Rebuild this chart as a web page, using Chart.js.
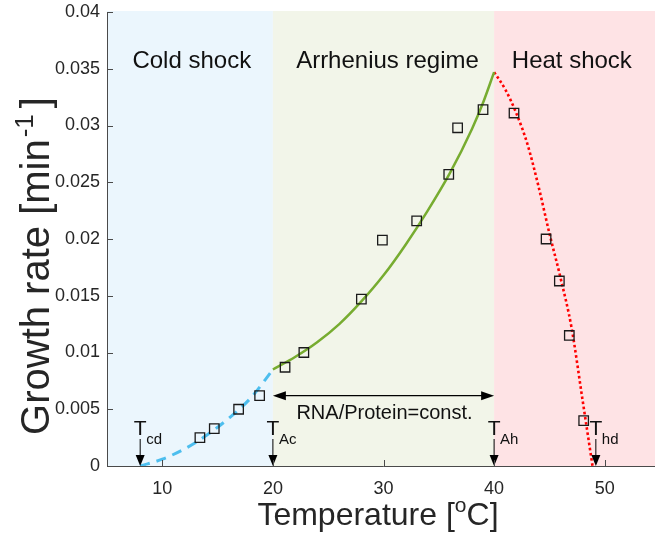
<!DOCTYPE html>
<html>
<head>
<meta charset="utf-8">
<script src="https://cdn.jsdelivr.net/npm/chart.js@4.4.0/dist/chart.umd.min.js"></script>
<style>
  html, body { margin: 0; padding: 0; background: #fff; overflow: hidden; }
  #wrap { position: relative; width: 668px; height: 537px; }
</style>
</head>
<body>
<div id="wrap"><canvas id="growth-chart"></canvas></div>
<script>
// Measured growth rates (open squares)
const obsTemp = [13.4, 14.7, 16.9, 18.8, 21.1, 22.8, 28.0, 29.9, 33.0, 35.9, 36.7, 39.0, 41.8, 44.7, 45.9, 46.8, 48.1]
const obsRate = [0.0025, 0.0033, 0.0050, 0.0062, 0.0087, 0.0100, 0.0147, 0.0199, 0.0216, 0.0257, 0.0298, 0.0314, 0.0311, 0.0200, 0.0163, 0.0115, 0.0040]

// Cold shock fit (blue dashed)
const coldTemp = [8, 10, 12, 14, 16, 18, 20]
const coldRate = [0, 0.0006, 0.0015, 0.0027, 0.0042, 0.0060, 0.0085]

// Arrhenius fit (green)
const arrTemp = [20, 22, 24, 26, 28, 30, 32, 34, 36, 38, 39, 40]
const arrRate = [0.0085, 0.0096, 0.0109, 0.0125, 0.0145, 0.0168, 0.0195, 0.0225, 0.0258, 0.0297, 0.0320, 0.0347]

// Heat shock fit (red dotted)
const heatTemp = [40, 41, 42, 43, 44, 45, 46, 47, 48, 48.9]
const heatRate = [0.0347, 0.0332, 0.0311, 0.0284, 0.0247, 0.0205, 0.0166, 0.0122, 0.0058, 0]

// Regimes
const regionNames = ["Cold shock", "Arrhenius regime", "Heat shock"]
const regionEdges = [5, 20, 40, 55]

// Characteristic temperatures
const markerNames = ["cd", "Ac", "Ah", "hd"]
const markerTemps = [8, 20, 40, 49.2]

// Axis ticks
const xTicks = [10, 20, 30, 40, 50]
const xTickLabels = ["10", "20", "30", "40", "50"]
const yTicks = [0, 0.005, 0.01, 0.015, 0.02, 0.025, 0.03, 0.035, 0.04]
const yTickLabels = ["0", "0.005", "0.01", "0.015", "0.02", "0.025", "0.03", "0.035", "0.04"]

const FONT = '"Liberation Sans", Arial, Helvetica, sans-serif'
const TEXT = "#262626"
const regionColors = ["#ebf6fd", "#f2f5e9", "#fee3e5"]

function toPoints(xs, ys) {
  return xs.map((v, i) => ({ x: v, y: ys[i] }))
}

// draw text pieces (some raised as superscripts) along one baseline
function drawSupText(ctx, parts, align) {
  let total = 0
  parts.forEach((p) => {
    ctx.font = `${p.size}px ${FONT}`
    total += ctx.measureText(p.text).width + (p.gap || 0)
  })
  let cx = align === "center" ? -total / 2 : 0
  parts.forEach((p) => {
    ctx.font = `${p.size}px ${FONT}`
    cx += p.gap || 0
    ctx.fillText(p.text, cx, -(p.rise || 0))
    cx += ctx.measureText(p.text).width
  })
}

function arrowHead(ctx, x, y, dx, dy, len, half) {
  // tip at (x, y), pointing along (dx, dy)
  const bx = x - dx * len
  const by = y - dy * len
  ctx.beginPath()
  ctx.moveTo(x, y)
  ctx.lineTo(bx - dy * half, by + dx * half)
  ctx.lineTo(bx + dy * half, by - dx * half)
  ctx.closePath()
  ctx.fill()
}

const decorations = {
  id: "decorations",
  beforeDatasetsDraw(chart) {
    const { ctx, chartArea, scales } = chart
    const x = scales.x
    const y = scales.y
    ctx.save()
    // regime backgrounds
    for (let i = 0; i < regionNames.length; i++) {
      const x0 = x.getPixelForValue(regionEdges[i])
      const x1 = x.getPixelForValue(regionEdges[i + 1])
      ctx.fillStyle = regionColors[i]
      ctx.fillRect(x0, chartArea.top - 1, x1 - x0, chartArea.bottom - chartArea.top + 1)
    }
    // regime names
    const nameX = [7.3, 22.1, 41.6]
    ctx.fillStyle = "#111"
    ctx.font = `24px ${FONT}`
    ctx.textAlign = "left"
    ctx.textBaseline = "alphabetic"
    regionNames.forEach((name, i) => {
      ctx.fillText(name, x.getPixelForValue(nameX[i]), y.getPixelForValue(0.0351))
    })
    ctx.restore()
  },
  afterDatasetsDraw(chart) {
    const { ctx, chartArea, scales } = chart
    const x = scales.x
    const y = scales.y
    const y0 = y.getPixelForValue(0)
    ctx.save()
    ctx.fillStyle = "#000"
    ctx.strokeStyle = "#000"

    // RNA/Protein = const. double arrow
    const ay = y.getPixelForValue(0.0062)
    const ax0 = x.getPixelForValue(20)
    const ax1 = x.getPixelForValue(40)
    ctx.lineWidth = 1.2
    ctx.beginPath()
    ctx.moveTo(ax0 + 8, ay)
    ctx.lineTo(ax1 - 8, ay)
    ctx.stroke()
    arrowHead(ctx, ax0, ay, -1, 0, 13, 4.5)
    arrowHead(ctx, ax1, ay, 1, 0, 13, 4.5)
    ctx.font = `20px ${FONT}`
    ctx.textAlign = "center"
    ctx.textBaseline = "alphabetic"
    ctx.fillStyle = "#111"
    ctx.fillText("RNA/Protein=const.", (ax0 + ax1) / 2 + 1, ay + 23)

    // characteristic temperature markers
    markerTemps.forEach((t, i) => {
      const px = x.getPixelForValue(t)
      ctx.strokeStyle = "#000"
      ctx.fillStyle = "#000"
      ctx.lineWidth = 1
      ctx.beginPath()
      ctx.moveTo(px, y0 - 27)
      ctx.lineTo(px, y0 - 6)
      ctx.stroke()
      arrowHead(ctx, px, y0, 0, 1, 11, 4.5)
      ctx.fillStyle = "#111"
      ctx.textAlign = "center"
      ctx.font = `21px ${FONT}`
      ctx.fillText("T", px, y0 - 31)
      ctx.textAlign = "left"
      ctx.font = `15px ${FONT}`
      ctx.fillText(markerNames[i], px + 6, y0 - 22)
    })

    // axis lines with inward ticks
    ctx.strokeStyle = "#4a4a4a"
    ctx.lineWidth = 1
    ctx.beginPath()
    ctx.moveTo(chartArea.left + 0.5, y.getPixelForValue(0.04))
    ctx.lineTo(chartArea.left + 0.5, y0 + 0.5)
    ctx.lineTo(chartArea.right, y0 + 0.5)
    xTicks.forEach((v) => {
      const px = Math.round(x.getPixelForValue(v)) + 0.5
      ctx.moveTo(px, y0)
      ctx.lineTo(px, y0 - 6)
    })
    yTicks.forEach((v) => {
      const py = Math.round(y.getPixelForValue(v)) + 0.5
      ctx.moveTo(chartArea.left, py)
      ctx.lineTo(chartArea.left + 6, py)
    })
    ctx.stroke()

    // axis titles with superscripts
    ctx.fillStyle = TEXT
    ctx.textAlign = "left"
    ctx.textBaseline = "alphabetic"
    ctx.save()
    ctx.translate(x.getPixelForValue(29.5), 525)
    drawSupText(ctx, [
      { text: "Temperature [", size: 32 },
      { text: "o", size: 21, rise: 13 },
      { text: "C]", size: 32 },
    ], "center")
    ctx.restore()

    ctx.save()
    ctx.translate(49, 266)
    ctx.rotate(-Math.PI / 2)
    drawSupText(ctx, [
      { text: "Growth rate [min", size: 40 },
      { text: "-1", size: 26, rise: 16, gap: 2 },
      { text: "]", size: 40, gap: 6 },
    ], "center")
    ctx.restore()

    ctx.restore()
  },
}

const ctx = document.getElementById("growth-chart").getContext("2d")
const growthChart = new Chart(ctx, {
  type: "scatter",
  data: {
    datasets: [
      {
        label: "Measured",
        data: toPoints(obsTemp, obsRate),
        pointStyle: "rect",
        pointRadius: 6.7,
        pointBorderWidth: 1.3,
        pointBorderColor: "#1a1a1a",
        pointBackgroundColor: "rgba(0,0,0,0)",
        showLine: false,
      },
      {
        label: "Cold shock",
        data: toPoints(coldTemp, coldRate),
        showLine: true,
        borderColor: "#4dbeee",
        borderWidth: 3,
        borderDash: [10, 7],
        pointRadius: 0,
        cubicInterpolationMode: "monotone",
      },
      {
        label: "Arrhenius",
        data: toPoints(arrTemp, arrRate),
        showLine: true,
        borderColor: "#77ac30",
        borderWidth: 2.5,
        pointRadius: 0,
        cubicInterpolationMode: "monotone",
      },
      {
        label: "Heat shock",
        data: toPoints(heatTemp, heatRate),
        showLine: true,
        borderColor: "#ff0000",
        borderWidth: 2.6,
        borderDash: [2.6, 2.6],
        pointRadius: 0,
        cubicInterpolationMode: "monotone",
      },
    ],
  },
  options: {
    responsive: true,
    maintainAspectRatio: false,
    animation: false,
    layout: {
      padding: { top: 12, left: 0, right: 0, bottom: 0 },
    },
    plugins: {
      legend: { display: false },
      tooltip: { enabled: false },
    },
    scales: {
      x: {
        type: "linear",
        min: 5,
        max: 55,
        grid: { display: false, drawTicks: false },
        border: { display: false },
        afterBuildTicks: (scale) => {
          scale.ticks = xTicks.map((v) => ({ value: v }))
        },
        afterFit: (scale) => {
          scale.height = 71
        },
        ticks: {
          padding: 12,
          color: TEXT,
          font: { family: FONT, size: 18 },
          callback: (v, i) => xTickLabels[i],
        },
      },
      y: {
        type: "linear",
        min: 0,
        max: 0.04,
        grid: { display: false, drawTicks: false },
        border: { display: false },
        afterBuildTicks: (scale) => {
          scale.ticks = yTicks.map((v) => ({ value: v }))
        },
        afterFit: (scale) => {
          scale.width = 107
        },
        ticks: {
          padding: 7,
          color: TEXT,
          font: { family: FONT, size: 18, lineHeight: 0.5 },
          callback: (v, i) => yTickLabels[i],
        },
      },
    },
  },
  plugins: [decorations],
})
</script>
</body>
</html>
